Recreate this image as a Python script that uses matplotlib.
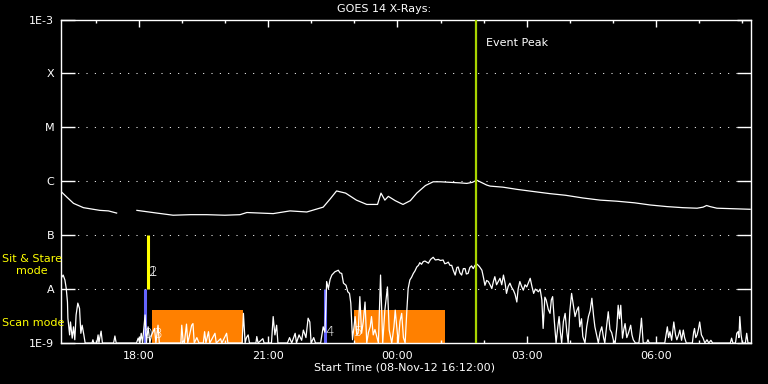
import numpy as np
import matplotlib
matplotlib.use("Agg")
import matplotlib.pyplot as plt
from matplotlib.ticker import FixedLocator, NullLocator

# time in decimal hours UT (values > 24 are the next day), flux as log10(W/m^2)
t_start = 16.2
t_end = 32.2

# 1-8 A channel (gap = nan)
long_pts = [
    (16.20, -6.19), (16.33, -6.29), (16.49, -6.41), (16.72, -6.49), (17.10, -6.54),
    (17.30, -6.55), (17.49, -6.59), (17.70, np.nan), (17.96, -6.54), (18.42, -6.59),
    (18.80, -6.63), (19.20, -6.62), (19.58, -6.62), (20.00, -6.63), (20.35, -6.62),
    (20.51, -6.58), (21.12, -6.60), (21.51, -6.55), (21.90, -6.57), (22.28, -6.48),
    (22.45, -6.32), (22.59, -6.18), (22.80, -6.22), (23.05, -6.35), (23.29, -6.43),
    (23.54, -6.43), (23.62, -6.22), (23.71, -6.35), (23.79, -6.28), (23.95, -6.36),
    (24.13, -6.43), (24.30, -6.36), (24.45, -6.22), (24.65, -6.08), (24.83, -6.01),
    (25.00, -6.01), (25.22, -6.02), (25.45, -6.03), (25.61, -6.04), (25.74, -6.02),
    (25.84, -5.98), (26.07, -6.07), (26.15, -6.09), (26.45, -6.11), (26.77, -6.15),
    (27.15, -6.19), (27.54, -6.23), (27.90, -6.26), (28.30, -6.31), (28.70, -6.35),
    (29.09, -6.37), (29.50, -6.40), (29.86, -6.44), (30.25, -6.47), (30.62, -6.49),
    (30.95, -6.50), (31.09, -6.48), (31.17, -6.45), (31.25, -6.47), (31.41, -6.50),
    (31.80, -6.51), (32.18, -6.52),
]

# 0.5-4 A channel
short_pts = [
    (16.20, -7.80), (16.25, -7.74), (16.29, -7.83), (16.32, -7.98), (16.35, -8.24),
    (16.36, -8.54), (16.40, -8.85), (16.42, -8.61), (16.46, -8.91), (16.49, -8.70),
    (16.52, -8.94), (16.55, -8.48), (16.59, -8.26), (16.63, -8.36), (16.66, -8.82),
    (16.69, -8.67), (16.73, -8.85), (16.76, -9.0),
    (16.92, -9.0), (16.94, -8.94), (16.96, -9.0),
    (17.03, -9.0), (17.06, -8.85), (17.08, -9.0), (17.10, -8.90), (17.13, -8.78), (17.16, -9.0),
    (17.42, -9.0), (17.45, -8.87), (17.48, -9.0),
    (17.95, -9.0), (17.99, -8.91), (18.03, -9.0), (18.06, -8.82), (18.09, -9.0), (18.15, -8.48),
    (18.18, -9.0), (18.22, -8.70), (18.26, -9.0), (18.30, -8.85), (18.37, -8.73), (18.40, -9.0),
    (18.45, -8.67), (18.48, -9.0),
    (18.98, -9.0), (19.00, -8.67), (19.03, -8.95), (19.06, -9.0), (19.11, -8.65), (19.14, -9.0),
    (19.18, -8.85), (19.23, -8.67), (19.26, -8.64), (19.29, -9.0), (19.35, -8.90), (19.40, -9.0),
    (19.50, -9.0), (19.53, -8.79), (19.56, -9.0), (19.62, -8.79), (19.65, -9.0), (19.77, -8.82),
    (19.80, -9.0), (19.90, -8.92), (19.93, -9.0), (20.04, -8.82), (20.07, -9.0),
    (20.40, -9.0), (20.43, -8.45), (20.47, -9.0), (20.50, -8.90), (20.54, -8.85), (20.57, -9.0),
    (20.72, -9.0), (20.74, -8.88), (20.77, -9.0), (20.88, -8.92), (20.91, -9.0), (21.08, -9.0),
    (21.12, -8.51), (21.16, -8.85), (21.20, -8.67), (21.23, -9.0),
    (21.45, -9.0), (21.50, -8.90), (21.55, -9.0), (21.63, -8.82), (21.66, -9.0), (21.72, -8.85),
    (21.78, -8.95), (21.82, -8.76), (21.88, -8.90), (21.93, -8.54), (21.97, -8.61), (22.00, -9.0),
    (22.06, -8.90), (22.10, -9.0),
    (22.22, -9.0), (22.28, -8.70), (22.32, -8.80), (22.36, -7.86), (22.40, -7.99), (22.44, -7.82),
    (22.48, -7.74), (22.55, -7.68), (22.63, -7.65), (22.67, -7.70), (22.71, -7.71), (22.75, -7.89),
    (22.81, -7.93), (22.85, -8.05), (22.89, -8.08), (22.92, -8.26), (22.96, -8.94), (23.02, -8.51),
    (23.06, -8.85), (23.09, -8.82), (23.13, -8.14), (23.17, -8.82), (23.21, -8.60), (23.25, -8.24),
    (23.29, -9.0), (23.33, -8.80), (23.37, -8.70), (23.40, -8.51), (23.44, -8.85), (23.48, -8.75),
    (23.56, -9.0), (23.61, -7.74), (23.66, -9.0), (23.71, -8.39), (23.77, -7.96), (23.81, -8.76),
    (23.87, -9.0), (23.92, -8.70), (23.95, -8.39), (24.02, -9.0), (24.06, -8.60), (24.10, -8.45),
    (24.14, -8.90), (24.18, -9.0), (24.22, -8.39), (24.25, -7.99), (24.29, -7.83), (24.33, -7.78),
    (24.37, -7.71), (24.41, -7.66), (24.45, -7.59), (24.49, -7.56), (24.52, -7.51), (24.56, -7.54),
    (24.60, -7.49), (24.64, -7.48), (24.68, -7.50), (24.72, -7.52), (24.77, -7.45), (24.83, -7.41),
    (24.88, -7.46), (24.95, -7.45), (25.00, -7.47), (25.06, -7.46), (25.10, -7.53), (25.14, -7.52),
    (25.18, -7.50), (25.22, -7.56), (25.26, -7.56), (25.30, -7.66), (25.34, -7.74), (25.38, -7.60),
    (25.41, -7.59), (25.45, -7.70), (25.49, -7.74), (25.53, -7.62), (25.57, -7.62), (25.60, -7.72),
    (25.64, -7.71), (25.68, -7.60), (25.72, -7.57), (25.76, -7.62), (25.80, -7.56), (25.85, -7.54),
    (25.90, -7.58), (25.96, -7.65), (26.00, -7.80), (26.03, -7.93), (26.07, -7.84), (26.11, -7.86),
    (26.15, -7.92), (26.19, -7.99), (26.23, -7.85), (26.26, -7.77), (26.30, -7.92), (26.34, -7.86),
    (26.38, -7.80), (26.42, -7.92), (26.46, -7.74), (26.50, -7.90), (26.53, -8.08), (26.57, -7.95),
    (26.61, -7.89), (26.65, -7.97), (26.69, -8.02), (26.73, -8.10), (26.77, -8.24), (26.80, -8.00),
    (26.84, -7.86), (26.88, -7.95), (26.92, -8.02), (26.96, -7.92), (27.00, -7.96), (27.04, -7.88),
    (27.08, -7.80), (27.12, -7.95), (27.16, -8.08), (27.20, -8.00), (27.27, -8.05), (27.31, -8.00),
    (27.35, -8.20), (27.38, -8.73), (27.42, -8.15), (27.45, -8.20), (27.50, -8.38), (27.54, -8.45),
    (27.57, -8.20), (27.60, -8.14), (27.64, -8.60), (27.68, -9.0), (27.72, -8.70), (27.75, -8.51),
    (27.78, -8.80), (27.81, -9.0), (27.85, -8.60), (27.89, -8.45), (27.93, -8.80), (27.96, -9.0),
    (28.00, -8.40), (28.04, -8.08), (28.08, -8.30), (28.12, -8.51), (28.16, -8.40), (28.20, -8.33),
    (28.23, -8.70), (28.27, -8.55), (28.30, -8.88), (28.35, -9.0), (28.39, -8.70), (28.43, -8.51),
    (28.47, -8.40), (28.51, -8.17), (28.55, -8.50), (28.58, -8.70), (28.62, -8.85), (28.66, -9.0),
    (28.70, -8.80), (28.74, -8.70), (28.78, -8.90), (28.81, -9.0), (28.85, -8.70), (28.89, -8.42),
    (28.93, -8.75), (28.97, -8.81), (29.01, -8.95), (29.05, -9.0), (29.09, -8.70), (29.12, -8.30),
    (29.15, -8.55), (29.18, -8.30), (29.22, -8.91), (29.25, -8.75), (29.28, -8.64), (29.32, -8.90),
    (29.36, -8.81), (29.41, -8.67), (29.44, -8.85), (29.47, -8.94), (29.52, -9.0),
    (29.60, -9.0), (29.63, -8.80), (29.66, -8.54), (29.70, -9.0), (29.78, -9.0), (29.81, -8.94),
    (29.84, -9.0),
    (30.20, -9.0), (30.23, -8.85), (30.26, -8.70), (30.29, -8.90), (30.32, -8.79), (30.36, -8.95),
    (30.41, -8.61), (30.45, -8.85), (30.48, -8.94), (30.52, -8.85), (30.55, -8.76), (30.59, -8.95),
    (30.63, -8.76), (30.66, -8.90), (30.70, -9.0),
    (30.84, -9.0), (30.87, -8.80), (30.89, -8.73), (30.92, -8.90), (30.95, -8.85), (30.98, -8.75),
    (31.01, -8.61), (31.05, -8.85), (31.09, -8.91), (31.13, -9.0), (31.18, -8.94), (31.22, -9.0),
    (31.27, -8.95), (31.31, -9.0),
    (31.72, -9.0), (31.75, -8.91), (31.78, -9.0), (31.84, -9.0), (31.87, -8.82), (31.90, -8.79),
    (31.92, -8.90), (31.94, -8.51), (31.97, -8.85), (32.00, -9.0), (32.07, -9.0), (32.10, -8.82),
    (32.13, -9.0), (32.18, -9.0),
]

level_values = [1e-9, 1e-8, 1e-7, 1e-6, 1e-5, 1e-4, 1e-3]
level_labels = ["1E-9", "A", "B", "C", "M", "X", "1E-3"]

major_hours = [18, 21, 24, 27, 30]
major_labels = ["18:00", "21:00", "00:00", "03:00", "06:00"]
minor_hours = [17, 19, 20, 22, 23, 25, 26, 28, 29, 31, 32]

event_peak = 25.82
# observing modes
sit_stare = (18.21, 1e-8, 1e-7)
scan_marks = [(18.15, 1e-9, 1e-8), (22.32, 1e-9, 1e-8)]
scan_blocks = [(18.31, 20.42), (22.99, 25.10)]
scan_block_top = 4.1e-9
mode_numbers = [("1", 18.22, -7.69), ("2", 18.24, -7.69), ("0", 18.12, -8.83),
                ("3", 18.36, -8.83), ("4", 22.32, -8.80), ("5", 22.99, -8.80)]

fig = plt.figure(figsize=(7.68, 3.84), dpi=100, facecolor="black")
ax = fig.add_axes([61 / 768, 1 - 343 / 384, 690 / 768, 323.5 / 384])
ax.set_facecolor("black")

for lo, hi in scan_blocks:
    ax.fill_between([lo, hi], [1e-9, 1e-9], [scan_block_top, scan_block_top],
                    color="#ff8000", lw=0, zorder=1)

lt = np.array([p[0] for p in long_pts])
lf = 10 ** np.array([p[1] for p in long_pts])
st = np.array([p[0] for p in short_pts])
sf = 10 ** np.array([p[1] for p in short_pts])
ax.plot(lt, lf, color="white", lw=0.9, zorder=3)
ax.plot(st, sf, color="white", lw=0.9, zorder=3)

ax.plot([sit_stare[0]] * 2, sit_stare[1:], color="#ffff00", lw=2.2, zorder=4, solid_capstyle="butt")
for t, lo, hi in scan_marks:
    ax.plot([t, t], [lo, hi], color="#6464ff", lw=2.2, zorder=2, solid_capstyle="butt")

ax.axvline(event_peak, color="#a8d400", lw=1.6, zorder=4)
ax.text(event_peak + 0.23, 10 ** -3.44, "Event Peak", color="white", fontsize=8,
        ha="left", va="center")

for lbl, t, v in mode_numbers:
    ax.text(t, 10 ** v, lbl, color="white", fontsize=10, ha="left", va="center",
            fontweight="light", zorder=5)

ax.set_yscale("log")
ax.set_ylim(level_values[0], level_values[-1])
ax.set_xlim(t_start, t_end)

for lv in level_values[1:-1]:
    ax.axhline(lv, color="white", lw=0.75, ls=(0, (1, 7)), zorder=0)

ax.yaxis.set_major_locator(FixedLocator(level_values))
ax.yaxis.set_minor_locator(NullLocator())
ax.set_yticklabels(level_labels)
ax.xaxis.set_major_locator(FixedLocator(major_hours))
ax.xaxis.set_minor_locator(FixedLocator(minor_hours))
ax.set_xticklabels(major_labels)

ax.tick_params(axis="y", which="major", direction="in", length=10, width=1,
               colors="white", labelsize=8, left=True, right=True, pad=5)
ax.tick_params(axis="x", which="major", direction="in", length=5, width=1,
               colors="white", labelsize=8, top=True, bottom=True, pad=6)
ax.tick_params(axis="x", which="minor", direction="in", length=2.5, width=1,
               colors="white", top=True, bottom=True)
for s in ax.spines.values():
    s.set_color("white")
    s.set_linewidth(1)

fig.text(384 / 768, 1 - 9 / 384, "GOES 14 X-Rays:", color="white", fontsize=8,
         ha="center", va="center")
fig.text(405 / 768, 1 - 368 / 384, "Start Time (08-Nov-12 16:12:00)", color="white",
         fontsize=8, ha="center", va="center")
fig.text(32 / 768, 1 - 265 / 384, "Sit & Stare\nmode", color="#ffff00", fontsize=8,
         ha="center", va="center", linespacing=1.2)
fig.text(2 / 768, 1 - 323 / 384, "Scan mode", color="#ffff00", fontsize=8,
         ha="left", va="center")

fig.savefig("out.png", dpi=100, facecolor="black")
